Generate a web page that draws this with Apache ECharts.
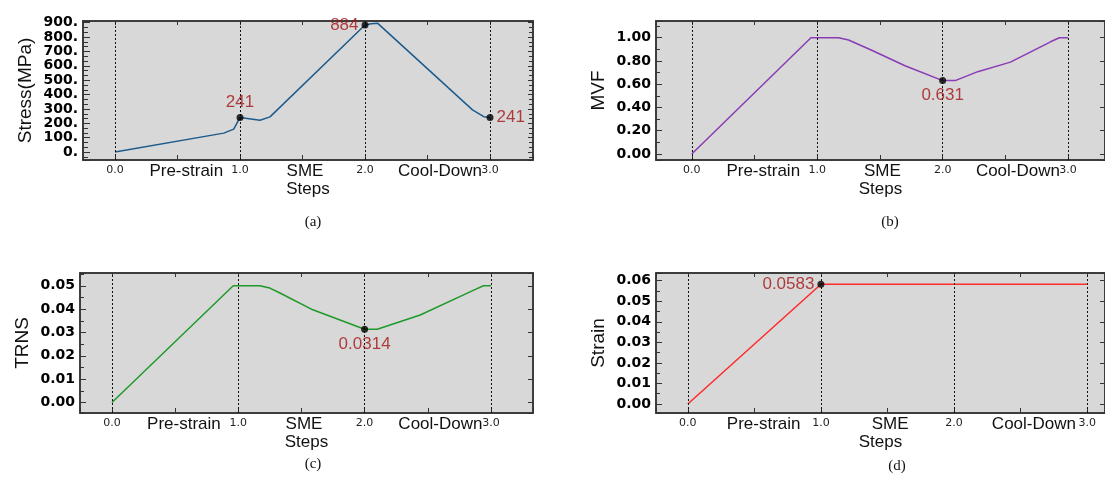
<!DOCTYPE html>
<html>
<head>
<meta charset="utf-8">
<script src="https://cdn.jsdelivr.net/npm/echarts@6/dist/echarts.min.js"></script>
<style>
html,body{margin:0;padding:0;background:#fff;}
#chart{width:1105px;height:479px;}
</style>
</head>
<body>
<div id="chart"></div>
<script>
// ---------- data ----------
var xTickLabels = [0, 1, 2, 3];
var stageNames = ['Pre-strain', 'SME', 'Cool-Down'];
var stagePos = [0.57, 1.52, 2.6];
var captions = ['(a)', '(b)', '(c)', '(d)'];

var stressData = [[0,0],[0.87,132],[0.95,160],[1.0,241],[1.16,222],[1.24,245],[2.0,884],[2.05,893],[2.1,897],[2.86,294],[2.95,246],[3.0,241]];
var mvfData = [[0,0],[0.95,1.0],[1.17,1.0],[1.25,0.98],[1.43,0.894],[1.7,0.759],[2.0,0.631],[2.1,0.631],[2.28,0.708],[2.54,0.79],[2.86,0.965],[2.93,1.0],[3.0,1.0]];
var trnsData = [[0,0],[0.96,0.05],[1.17,0.05],[1.25,0.049],[1.33,0.0469],[1.59,0.0397],[2.0,0.0314],[2.1,0.0314],[2.44,0.0375],[2.86,0.048],[2.94,0.05],[3.0,0.05]];
var strainData = [[0,0],[1.0,0.0583],[3.0,0.0583]];

var stressMarks = [[1,241],[2,884],[3,241]];
var mvfMarks = [[2,0.631]];
var trnsMarks = [[2,0.0314]];
var strainMarks = [[1,0.0583]];

var stressTicks = [0,100,200,300,400,500,600,700,800,900];
var mvfTicks = [0,0.2,0.4,0.6,0.8,1.0];
var trnsTicks = [0,0.01,0.02,0.03,0.04,0.05];
var strainTicks = [0,0.01,0.02,0.03,0.04,0.05,0.06];

// ---------- layout ----------
var panels = [
  {grid:{left:83, top:21, width:450, height:139}, xMin:-0.256, xMax:3.344, yMin:-55, yMax:912, ySplit:10,
   minorStep:100/3, minorSplit:29,
   name:'Stress(MPa)', data:stressData, marks:stressMarks, ticks:stressTicks, rightMinor:true,
   fmt:function(v){return v + '.';}, color:'#1d5b8c', labelPos:['top','left','right'], majorLen:7, minorLen:5},
  {grid:{left:656, top:21, width:452, height:139}, xMin:-0.285, xMax:3.294, yMin:-0.052, yMax:1.144, ySplit:6,
   minorStep:0.1, minorSplit:12,
   name:'MVF', data:mvfData, marks:mvfMarks, ticks:mvfTicks, rightMinor:false,
   fmt:function(v){return v.toFixed(2);}, color:'#8a3cb4', labelPos:['bottom'], majorLen:6, minorLen:4},
  {grid:{left:80, top:273, width:453, height:140}, xMin:-0.253, xMax:3.333, yMin:-0.00447, yMax:0.05546, ySplit:6,
   minorStep:0.005, minorSplit:12,
   name:'TRNS', data:trnsData, marks:trnsMarks, ticks:trnsTicks, rightMinor:false,
   fmt:function(v){return v.toFixed(2);}, color:'#1f9a2a', labelPos:['bottom'], majorLen:6, minorLen:4},
  {grid:{left:656, top:273, width:452, height:140}, xMin:-0.239, xMax:3.134, yMin:-0.00438, yMax:0.06375, ySplit:7,
   minorStep:0.005, minorSplit:14,
   name:'Strain', data:strainData, marks:strainMarks, ticks:strainTicks, rightMinor:false,
   fmt:function(v){return v.toFixed(2);}, color:'#ff2a2a', labelPos:['left'], majorLen:6, minorLen:4}
];
var captionPos = [[313,222],[890,222],[313,464],[897,466]];

var axisColor = '#333';
var grids = [], xAxes = [], yAxes = [], series = [], graphics = [];

function tickOnlyY(gridIndex, min, max, split, position, len, withLine) {
  return {gridIndex:gridIndex, type:'value', min:min, max:max, splitNumber:split, position:position,
    axisLine:{show:withLine, onZero:false, lineStyle:{color:axisColor, width:1.5}},
    axisTick:{show:true, inside:true, length:len, lineStyle:{color:axisColor}},
    axisLabel:{show:false}, splitLine:{show:false}};
}

panels.forEach(function (p, i) {
  grids.push(Object.assign({show:true, backgroundColor:'#d8d8d8', borderColor:axisColor, borderWidth:1.5}, p.grid));
  var xBase = xAxes.length;
  xAxes.push({gridIndex:i, type:'value', min:p.xMin, max:p.xMax, splitNumber:7, position:'bottom',
    axisLine:{show:true, onZero:false, lineStyle:{color:axisColor, width:1.5}},
    axisTick:{show:true, inside:true, length:5, lineStyle:{color:axisColor}},
    axisLabel:{show:true, customValues:xTickLabels, margin:5, fontSize:11, color:'#222', fontFamily:'DejaVu Sans',
      formatter:function(v){return v.toFixed(1);}},
    splitLine:{show:false},
    name:'Steps', nameLocation:'middle', nameGap:21,
    nameTextStyle:{fontSize:17, color:'#111', fontFamily:'Liberation Sans'}});
  xAxes.push({gridIndex:i, type:'value', min:p.xMin, max:p.xMax, splitNumber:7, position:'top',
    axisLine:{show:true, onZero:false, lineStyle:{color:axisColor, width:1.5}},
    axisTick:{show:true, inside:true, length:4, lineStyle:{color:axisColor}},
    axisLabel:{show:false}, splitLine:{show:false}});
  xAxes.push({gridIndex:i, type:'value', min:p.xMin, max:p.xMax, position:'bottom',
    axisLine:{show:false, onZero:false}, axisTick:{show:false}, splitLine:{show:false},
    axisLabel:{show:true, customValues:stagePos, margin:3, fontSize:17, color:'#111', fontFamily:'Liberation Sans',
      formatter:function(v){var k = stagePos.indexOf(v); return k >= 0 ? stageNames[k] : '';}}});

  var yBase = yAxes.length;
  yAxes.push({gridIndex:i, type:'value', min:p.yMin, max:p.yMax, splitNumber:p.ySplit, position:'left',
    axisLine:{show:true, onZero:false, lineStyle:{color:axisColor, width:1.5}},
    axisTick:{show:true, inside:true, length:p.majorLen, lineStyle:{color:axisColor}},
    axisLabel:{show:true, customValues:p.ticks, margin:5, fontSize:14, fontWeight:'bold', color:'#000',
      fontFamily:'DejaVu Sans', formatter:p.fmt},
    splitLine:{show:false},
    name:p.name, nameLocation:'middle', nameGap:48, nameRotate:90,
    nameTextStyle:{fontSize:19, color:'#111', fontFamily:'Liberation Sans'}});
  // minor ticks on the left: proxy axis whose unit step equals one minor step
  yAxes.push(tickOnlyY(i, p.yMin / p.minorStep, p.yMax / p.minorStep, p.minorSplit, 'left', p.minorLen, false));
  // right side ticks
  yAxes.push(tickOnlyY(i, p.yMin, p.yMax, p.ySplit, 'right', 5, true));
  if (p.rightMinor) yAxes.push(tickOnlyY(i, p.yMin / p.minorStep, p.yMax / p.minorStep, p.minorSplit, 'right', 4, false));

  series.push({type:'line', xAxisIndex:xBase, yAxisIndex:yBase, data:p.data, showSymbol:false, symbol:'none',
    lineStyle:{color:p.color, width:1.5}, animation:false, z:3,
    markLine:{silent:true, symbol:'none', animation:false, label:{show:false},
      lineStyle:{type:[2,2], color:'#111', width:1},
      data:xTickLabels.map(function(v){return {xAxis:v};})}});
  series.push({type:'scatter', xAxisIndex:xBase, yAxisIndex:yBase, symbolSize:7, animation:false, z:5,
    itemStyle:{color:'#000'},
    data:p.marks.map(function(m, k){
      return {value:m, label:{show:true, position:p.labelPos[k], distance:3, formatter:String(m[1]),
        fontSize:17, color:'#a31414', fontFamily:'Liberation Sans'}};
    })});

  graphics.push({type:'text', x:captionPos[i][0], y:captionPos[i][1],
    style:{text:captions[i], fontSize:15, fontFamily:'Liberation Serif', fill:'#111', align:'center', verticalAlign:'middle'}});
});

var chart = echarts.init(document.getElementById('chart'), null, {renderer:'canvas'});
chart.setOption({animation:false, grid:grids, xAxis:xAxes, yAxis:yAxes, series:series, graphic:graphics});
</script>
</body>
</html>
